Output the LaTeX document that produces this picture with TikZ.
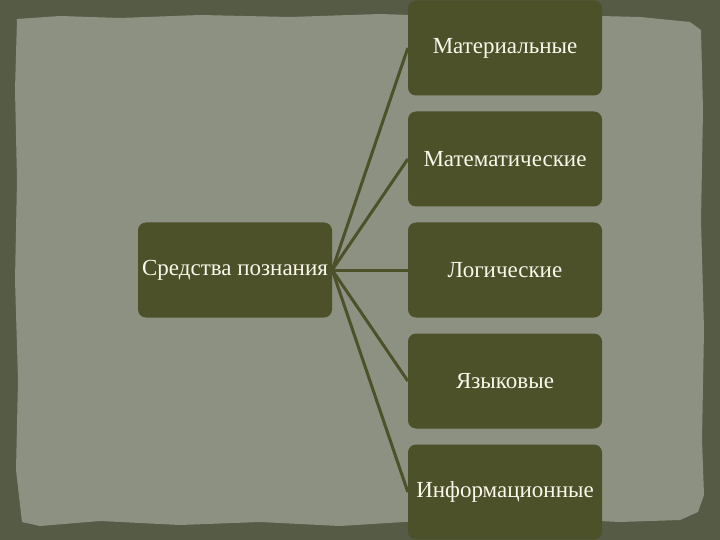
\documentclass[tikz,border=0pt]{standalone}
\usepackage{fontspec}
\setmainfont{Liberation Serif}
\definecolor{boxFill}{RGB}{76,81,41}
\definecolor{paperFill}{RGB}{141,145,130}
\definecolor{frameFill}{RGB}{86,91,70}
\definecolor{textCream}{RGB}{250,247,235}
\begin{document}
\begin{tikzpicture}
[x=1pt,y=-1pt,
  boxDecorate/.style={shape=rectangle,rounded corners=8pt,fill=boxFill,
    text=textCream,minimum width=194pt,minimum height=95pt,inner sep=0pt,
    font=\fontsize{23}{26}\selectfont},%
  lineDecorate/.style={-,draw=boxFill,line width=3pt}]
%% background and torn paper
\fill[frameFill] (0,0) rectangle (720,540);
\useasboundingbox (0,0) rectangle (720,540);
\fill[paperFill] (17,19) -- (60,16) -- (120,18) -- (200,15) -- (290,17)
  -- (380,14) -- (470,17) -- (560,15) -- (640,17) -- (690,22) -- (701,30)
  -- (703,110) -- (701,220) -- (704,330) -- (702,440) -- (704,495)
  -- (698,512) -- (680,520) -- (620,522) -- (560,519) -- (500,524)
  -- (420,521) -- (340,526) -- (260,522) -- (180,525) -- (100,521)
  -- (40,526) -- (22,522) -- (16,470) -- (18,380) -- (15,280)
  -- (17,180) -- (15,90) -- cycle;
%% nodes or vertices
\node (means) at (235,270) [boxDecorate] {Средства познания};
\foreach \nodename/\y/\label in {
  material/48/Материальные, math/159/Математические,
  logic/270/Логические, lang/381/Языковые, info/492/Информационные}
{
  \node (\nodename) at (505,\y) [boxDecorate] {\label};
}
%% edges or lines
\path
\foreach \endnode in {material, math, logic, lang, info}
{
  (means.east) edge[lineDecorate] (\endnode.west)
};
\end{tikzpicture}
\end{document}
